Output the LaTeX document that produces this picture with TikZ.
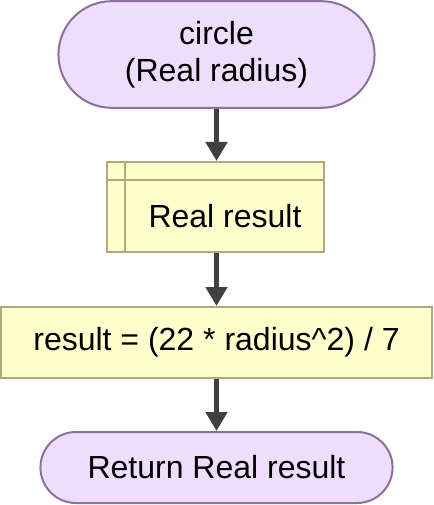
\documentclass[tikz,border=0pt]{standalone}
\usepackage{fontspec}
\setmainfont{Liberation Sans}
\usetikzlibrary{arrows.meta,shapes.misc}
\definecolor{termfill}{HTML}{EEDEFC}
\definecolor{termline}{HTML}{8E6FA0}
\definecolor{procfill}{HTML}{FFFFCC}
\definecolor{procline}{HTML}{ABAB7F}
\definecolor{arrowgray}{HTML}{404040}
\begin{document}
\begin{tikzpicture}[x=0.75pt,y=-0.75pt,
    every node/.style={font=\fontsize{24pt}{28pt}\selectfont, align=center},
    terminal/.style={rounded rectangle, draw=termline, fill=termfill, line width=1.5pt},
    process/.style={rectangle, draw=procline, fill=procfill, line width=1.5pt},
    storeline/.style={draw=procline, line width=1.5pt},
    flowarrow/.style={draw=arrowgray, line width=3.75pt, -{Triangle[width=15.75pt,length=14.25pt]}}]
    \useasboundingbox (0,0) rectangle (433,505);
    \node[terminal, minimum width=243.75pt, minimum height=80pt] (start) at (216.5,54.5) {circle\\(Real radius)};
    \node[process, minimum width=162.75pt, minimum height=67.5pt, text height=31.5pt, text depth=0pt] (store) at (215.5,207) {\hspace*{14.25pt}Real result};
    \draw[storeline] ([xshift=14.25pt]store.north west) -- ([xshift=14.25pt]store.south west);
    \draw[storeline] ([yshift=-14.25pt]store.north west) -- ([yshift=-14.25pt]store.north east);
    \node[process, minimum width=323.25pt, minimum height=53.25pt] (calc) at (216.5,342.5) {result = (22 * radius\^{}2) / 7};
    \node[terminal, minimum width=270.75pt, minimum height=53.25pt] (finish) at (216.5,467.5) {Return Real result};
    \draw[flowarrow] (start.south) -- (start.south |- store.north);
    \draw[flowarrow] (store.south -| calc.north) -- (calc.north);
    \draw[flowarrow] (calc.south) -- (finish.north);
\end{tikzpicture}
\end{document}
